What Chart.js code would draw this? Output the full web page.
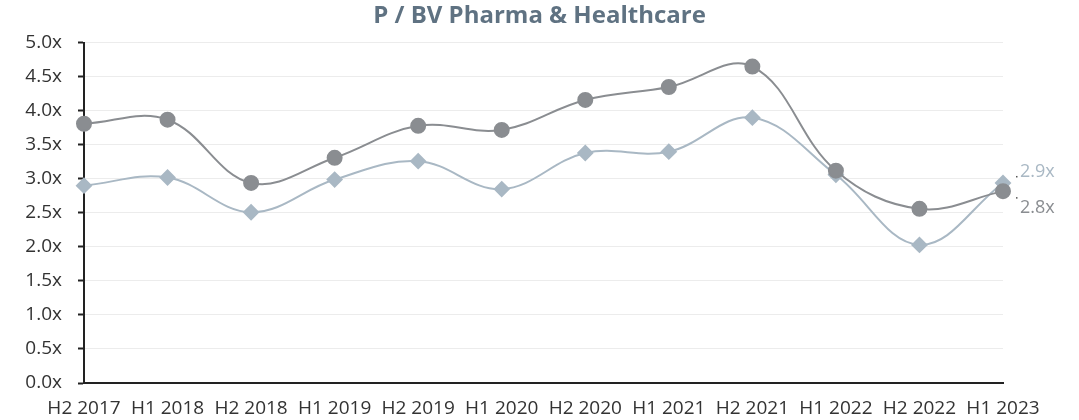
<!DOCTYPE html>
<html>
<head>
<meta charset="utf-8">
<script src="https://cdn.jsdelivr.net/npm/chart.js@4"></script>
<style>
  html, body { margin: 0; padding: 0; background: #fff; }
  #wrap { width: 1079px; height: 420px; position: relative; }
</style>
</head>
<body>
<div id="wrap"><canvas id="pbvChart"></canvas></div>
<script>
const periods = ['H2 2017', 'H1 2018', 'H2 2018', 'H1 2019', 'H2 2019', 'H1 2020',
                 'H2 2020', 'H1 2021', 'H2 2021', 'H1 2022', 'H2 2022', 'H1 2023'];
const pbvSector = [3.81, 3.87, 2.94, 3.31, 3.78, 3.72, 4.16, 4.35, 4.65, 3.12, 2.56, 2.82];
const pbvIndex  = [2.90, 3.02, 2.51, 2.99, 3.26, 2.85, 3.38, 3.40, 3.90, 3.06, 2.03, 2.94];

const darkGrey = '#8a8d91';
const lightBlue = '#a9b8c4';
const tickFont = { family: 'Open Sans', size: 19 };

// writes the latest value beside the final point of each line
const endLabels = {
    id: 'endLabels',
    afterDatasetsDraw(chart) {
        const ctx = chart.ctx;
        ctx.save();
        ctx.font = '18px "Open Sans"';
        ctx.textBaseline = 'middle';
        ctx.textAlign = 'left';
        chart.data.datasets.forEach((ds, i) => {
            const meta = chart.getDatasetMeta(i);
            const last = meta.data[meta.data.length - 1];
            const value = ds.data[ds.data.length - 1];
            const dy = ds.labelBelow ? 17 : -11;
            ctx.fillStyle = '#555';
            ctx.fillRect(last.x + 13, last.y + dy + (ds.labelBelow ? -11 : 4), 1.5, 1.5);
            ctx.fillStyle = ds.borderColor;
            ctx.fillText(value.toFixed(1) + 'x', last.x + 17, last.y + dy);
        });
        ctx.restore();
    }
};

new Chart(document.getElementById('pbvChart'), {
    type: 'line',
    data: {
        labels: periods,
        datasets: [
            {
                label: 'Sector',
                data: pbvSector,
                borderColor: darkGrey,
                backgroundColor: darkGrey,
                borderWidth: 2,
                tension: 0.38,
                pointStyle: 'circle',
                pointRadius: 7,
                pointHoverRadius: 7,
                labelBelow: true
            },
            {
                label: 'Index',
                data: pbvIndex,
                borderColor: lightBlue,
                backgroundColor: lightBlue,
                borderWidth: 2,
                tension: 0.38,
                pointStyle: 'rectRot',
                pointRadius: 7,
                pointHoverRadius: 7,
                labelBelow: false
            }
        ]
    },
    options: {
        responsive: true,
        maintainAspectRatio: false,
        animation: false,
        layout: { padding: 0 },
        plugins: {
            legend: { display: false },
            tooltip: { enabled: false },
            title: {
                display: true,
                text: 'P / BV Pharma & Healthcare',
                color: '#5f7282',
                font: { family: 'Open Sans', size: 24, weight: 'bold' },
                padding: { top: 2, bottom: 12 }
            }
        },
        scales: {
            x: {
                offset: false,
                grid: { display: false, drawTicks: false },
                border: { color: '#222', width: 2 },
                ticks: { color: '#333', font: tickFont, maxRotation: 0, autoSkip: false, padding: 14 },
                afterFit: (scale) => { scale.height = 37; }
            },
            y: {
                min: 0,
                max: 5,
                grid: { color: '#ececec', tickColor: '#222', tickLength: 6, lineWidth: 1, tickWidth: 2 },
                border: { color: '#222', width: 2 },
                ticks: {
                    stepSize: 0.5,
                    color: '#333',
                    font: tickFont,
                    padding: 16,
                    callback: (v) => v.toFixed(1) + 'x'
                },
                afterFit: (scale) => { scale.width = 84; }
            },
            // empty right-hand axis: keeps room for the end labels
            yRight: {
                position: 'right',
                min: 0,
                max: 5,
                grid: { display: false, drawTicks: false },
                border: { display: false },
                ticks: { display: false },
                afterFit: (scale) => { scale.width = 76; }
            }
        }
    },
    plugins: [endLabels]
});
</script>
</body>
</html>
